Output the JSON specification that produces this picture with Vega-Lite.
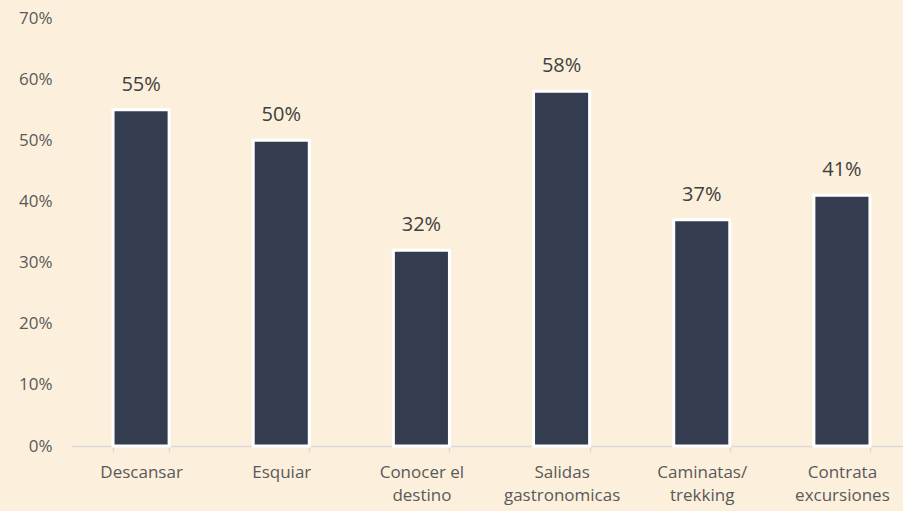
{
  "$schema": "https://vega.github.io/schema/vega-lite/v6.json",
  "autosize": "none",
  "width": 841,
  "height": 428,
  "padding": {"left": 71, "top": 18, "right": 0, "bottom": 65},
  "background": "#FCF0DC",
  "config": {"view": {"stroke": null}, "font": "Open Sans"},
  "data": {"values": [
    {"cat": "Descansar", "v": 0.55},
    {"cat": "Esquiar", "v": 0.50},
    {"cat": "Conocer el|destino", "v": 0.32},
    {"cat": "Salidas|gastronomicas", "v": 0.58},
    {"cat": "Caminatas/|trekking", "v": 0.37},
    {"cat": "Contrata|excursiones", "v": 0.41}
  ]},
  "encoding": {
    "x": {"field": "cat", "type": "nominal", "sort": null,
      "scale": {"paddingInner": 0.6, "paddingOuter": 0.3},
      "axis": {"title": null, "labelAngle": 0, "labelExpr": "isValid(datum.value) ? split(datum.value, '|') : ''",
        "labelFont": "Open Sans", "labelFontSize": 17, "labelColor": "#595959", "labelPadding": 12,
        "labelLineHeight": 23, "domainColor": "#D9D9D9", "tickColor": "#D9D9D9", "tickSize": 6,
        "tickWidth": 1.5, "domainWidth": 1.5,
        "tickBand": "extent", "grid": false}},
    "y": {"field": "v", "type": "quantitative",
      "scale": {"domain": [0, 0.7]},
      "axis": {"title": null, "format": ".0%", "values": [0, 0.1, 0.2, 0.3, 0.4, 0.5, 0.6, 0.7],
        "grid": false, "domain": false, "ticks": false, "labelPadding": 19,
        "labelFont": "Open Sans", "labelFontSize": 17, "labelColor": "#595959"}}
  },
  "layer": [
    {"mark": {"type": "bar", "color": "#333D4F", "stroke": "#FFFFFF", "strokeWidth": 3}},
    {"mark": {"type": "text", "baseline": "alphabetic", "dy": -19, "font": "Open Sans", "fontSize": 20, "color": "#404040"},
      "encoding": {"text": {"field": "v", "type": "quantitative", "format": ".0%"}}}
  ]
}
